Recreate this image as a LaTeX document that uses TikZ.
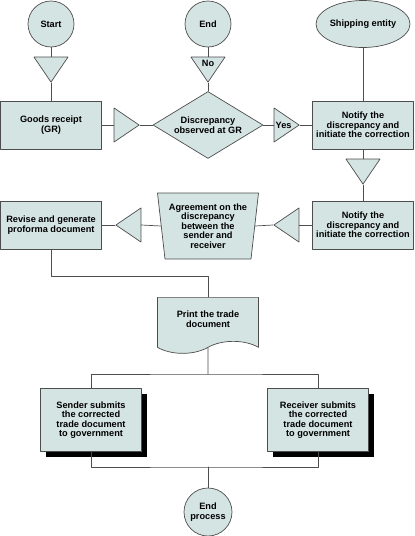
\documentclass[tikz,border=0pt]{standalone}
\usepackage{fontspec}
\setmainfont{Liberation Sans}
\usetikzlibrary{shapes.geometric,shapes.symbols,shadows}
\definecolor{boxfill}{RGB}{212,228,226}
\definecolor{edgegray}{RGB}{77,77,77}

\begin{document}
\begin{tikzpicture}[x=1pt,y=-1pt,line cap=round,line join=round,
    every node/.style={font=\fontsize{9.2}{9.5}\selectfont\bfseries,align=center,inner sep=0pt},
    base/.style={draw=edgegray,line width=0.7pt,fill=boxfill},
    proc/.style={base,rectangle,minimum width=101pt,minimum height=48pt},
    term/.style={base,circle,minimum size=46pt},
    tri/.style={base,isosceles triangle,isosceles triangle stretches,minimum width=34pt,minimum height=25pt},
    submit/.style={proc,minimum height=63pt,drop shadow={shadow xshift=5pt,shadow yshift=-5pt,fill=black,opacity=1}},
    link/.style={draw=edgegray,line width=0.7pt}]
  \useasboundingbox (0,0) rectangle (415,536);
  % top row
  \node[term] (start) at (51,24) {Start};
  \node[term] (stop) at (208,24) {End};
  \node[base,ellipse,minimum width=83pt,minimum height=47pt] (ship) at (363,24) {Shipping entity};
  \node[tri,shape border rotate=270,anchor=apex] (tstart) at (51,83) {};
  \node[tri,shape border rotate=270,anchor=apex] (tno) at (208,83) {\raisebox{-3pt}{No}};
  % discrepancy row
  \node[proc] (goods) at (51,125) {Goods receipt\\(GR)};
  \node[tri,anchor=apex] (tgoods) at (140,125) {};
  \node[base,diamond,aspect=1.64,minimum width=110pt,minimum height=67pt] (disc) at (208,125) {Discrepancy\\observed at GR};
  \node[tri,anchor=apex] (tyes) at (300,125) {Yes};
  \node[proc] (notifyA) at (363,125) {Notify the\\discrepancy and\\initiate the correction};
  \node[tri,shape border rotate=270,anchor=apex] (tnotify) at (363,185) {};
  % agreement row
  \node[proc] (notifyB) at (363,225) {Notify the\\discrepancy and\\initiate the correction};
  \node[tri,shape border rotate=180,anchor=apex] (tagree) at (273,225) {};
  \node[base,trapezium,trapezium left angle=99.5,trapezium right angle=99.5,trapezium stretches body,minimum width=101pt,minimum height=66pt] (agree) at (208,226) {Agreement on the\\discrepancy\\between the\\sender and\\receiver};
  \node[tri,shape border rotate=180,anchor=apex] (trevise) at (115,225) {};
  \node[proc] (revise) at (51,225) {Revise and generate\\proforma document};
  % print and submit
  \node[base,tape,tape bend top=none,tape bend bottom=in and out,tape bend height=12pt,minimum width=101pt,minimum height=56pt,anchor=north] (doc) at (208,297) {Print the trade\\document};
  \coordinate (split) at (208,374);
  \node[submit] (sender) at (91,420) {Sender submits\\the corrected\\trade document\\to government};
  \node[submit] (receiver) at (318,420) {Receiver submits\\the corrected\\trade document\\to government};
  \coordinate (merge) at (208,467);
  \node[term,minimum size=48pt] (finish) at (208,512) {End\\process};

  \draw[link] (start) -- (tstart.lower side);
  \draw[link] (tstart.apex) -- (goods.north);
  \draw[link] (stop) -- (tno.lower side);
  \draw[link] (tno.apex) -- (disc.north);
  \draw[link] (goods.east) -- (tgoods.lower side);
  \draw[link] (tgoods.apex) -- (disc.west);
  \draw[link] (disc.east) -- (tyes.lower side);
  \draw[link] (tyes.apex) -- (notifyA.west);
  \draw[link] (ship) -- (notifyA.north);
  \draw[link] (notifyA.south) -- (tnotify.lower side);
  \draw[link] (tnotify.apex) -- (notifyB.north);
  \draw[link] (notifyB.west) -- (tagree.lower side);
  \draw[link] (tagree.apex) -- (agree.east);
  \draw[link] (agree.west) -- (trevise.lower side);
  \draw[link] (trevise.apex) -- (revise.east);
  \draw[link] (revise.south) -- ++(0,27) -| (doc.north);
  \draw[link] (doc) -- (split);
  \draw[link] (sender.north) |- (split) -| (receiver.north);
  \draw[link] (sender.south) |- (merge) -| (receiver.south);
  \draw[link] (merge) -- (finish);
\end{tikzpicture}
\end{document}
